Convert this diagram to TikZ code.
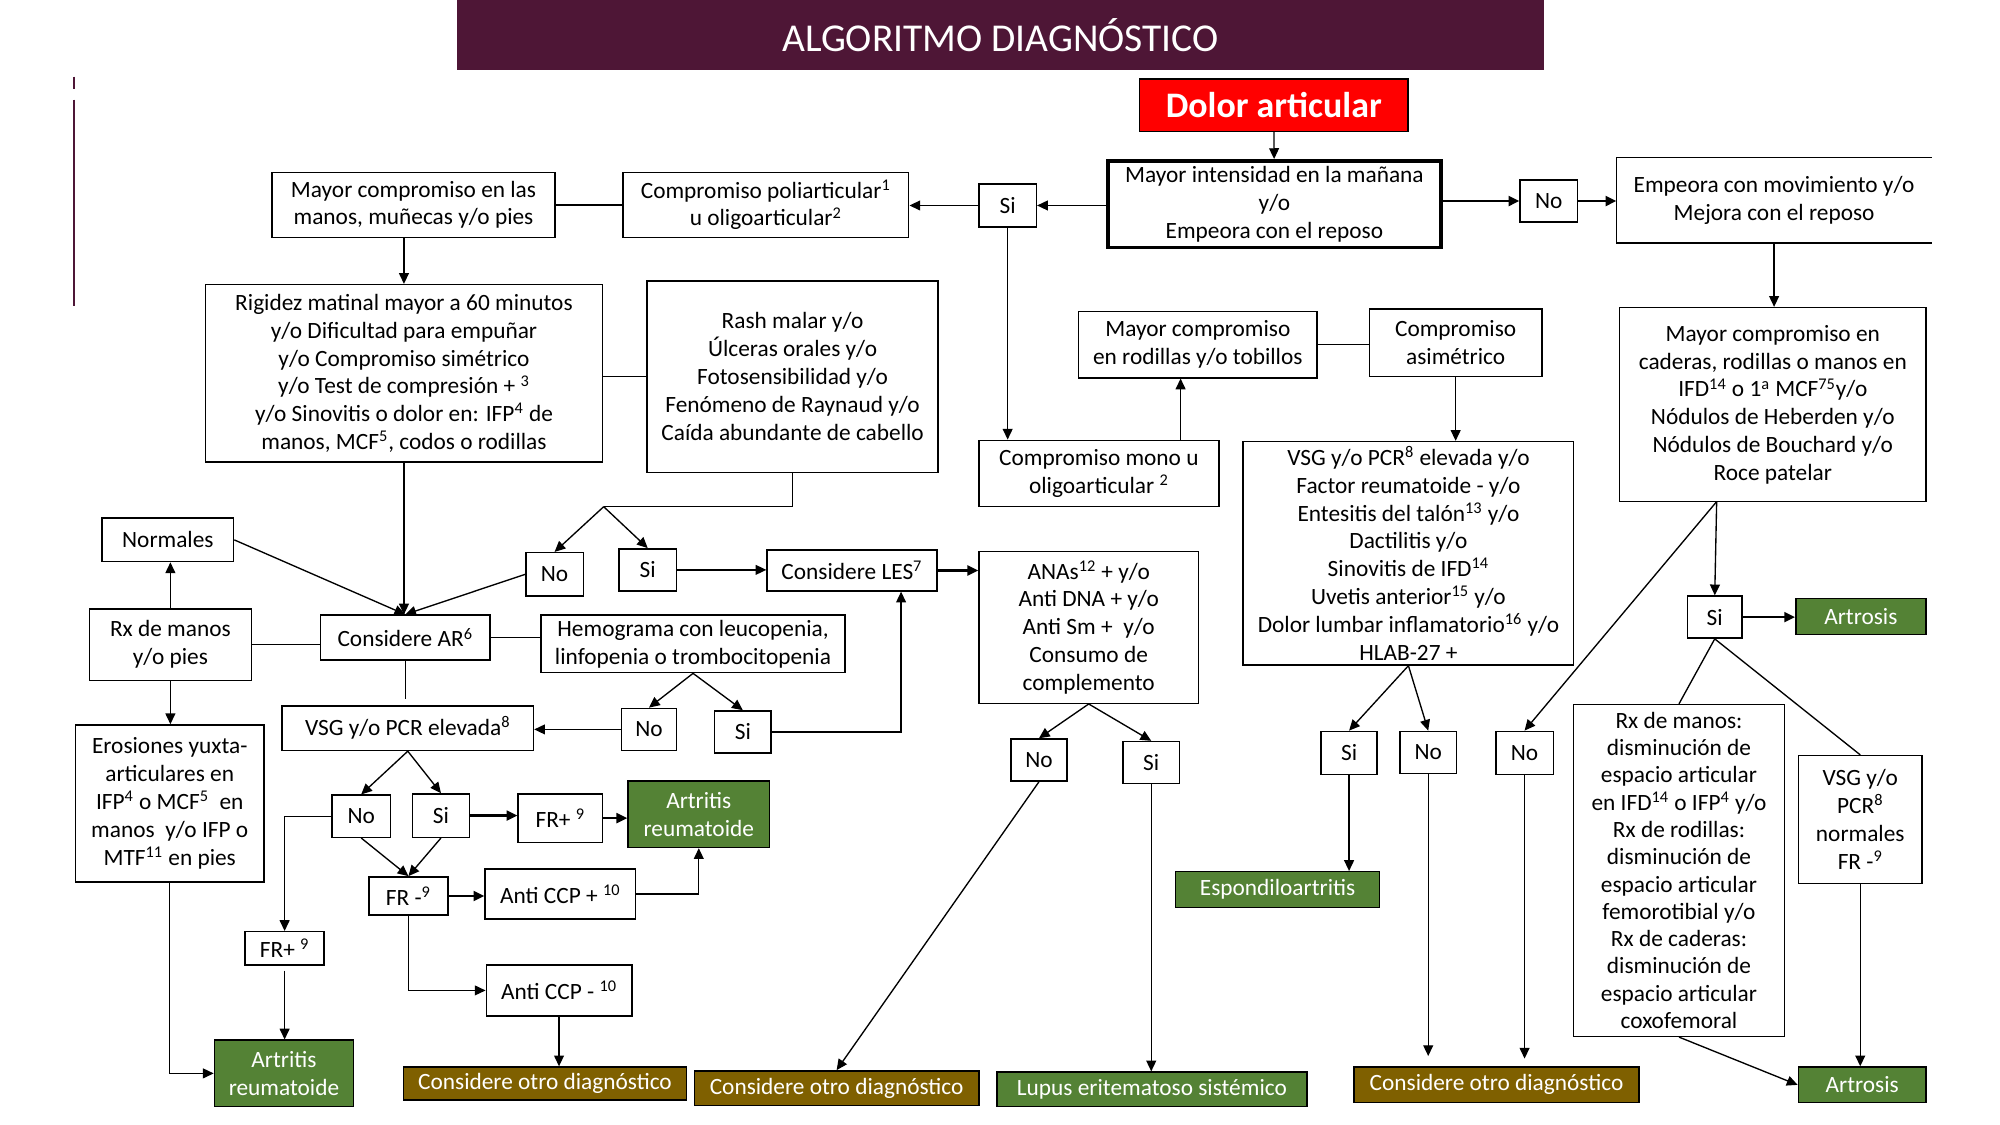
\documentclass[tikz,border=0pt]{standalone}
\usepackage{fontspec}
\setmainfont{Carlito}
\usetikzlibrary{positioning, arrows.meta, calc}

\definecolor{tituloFondo}{RGB}{78,22,54}
\definecolor{verdeDx}{RGB}{84,130,53}
\definecolor{cafeDx}{RGB}{127,96,0}

\tikzset{
  caja/.style={draw, line width=0.8pt, align=center, inner sep=2pt},
  wh/.style 2 args={minimum width=#1*0.025cm, minimum height=#2*0.025cm},
  dx/.style={caja, fill=verdeDx, text=white},
  otro/.style={caja, fill=cafeDx, text=white},
  flecha/.style={-{Triangle[length=6pt,width=5.5pt]}, line width=0.75pt},
  flechag/.style={flecha, line width=1.3pt},
  linea/.style={line width=0.75pt}
}

\begin{document}
\begin{tikzpicture}[x=0.025cm, y=-0.025cm, every node/.style={font=\fontsize{13}{15.5}\selectfont}]
  \fill[white] (0,0) rectangle (1567,881.4);
  \useasboundingbox (0,0) rectangle (1567,881.4);

  \node[fill=tituloFondo, text=white, wh={852}{55}, font=\fontsize{22}{26}\selectfont] (titulo) at (784,27.5) {ALGORITMO DIAGNÓSTICO};
  \draw[tituloFondo, line width=1pt] (58,60) -- (58,70) (58,78) -- (58,240);

  % inicio
  \node[caja, fill=red, text=white, wh={210}{41}, font=\bfseries\fontsize{20}{24}\selectfont] (dolor) at (998,82.5) {Dolor articular};
  \node[caja, line width=2pt, inner sep=1pt, wh={261}{68}] (intens) at (998.5,160) {Mayor intensidad en la mañana\\y/o\\Empeora con el reposo};
  \node[caja, wh={45}{33}] (noA) at (1213.5,157.5) {No};
  \node[caja, draw=none, wh={246}{66}] (empeora) at (1390,157) {Empeora con movimiento y/o\\Mejora con el reposo};
  \node[caja, wh={45}{34}] (siA) at (789.5,161) {Si};
  \node[caja, wh={224}{51}] (poli) at (600,160.5) {Compromiso poliarticular\textsuperscript{1}\\u oligoarticular\textsuperscript{2}};
  \node[caja, wh={222}{51}] (manos) at (324,160.5) {Mayor compromiso en las\\manos, muñecas y/o pies};

  % rama poliarticular
  \node[caja, wh={311}{139}] (rigidez) at (316.5,292.5) {Rigidez matinal mayor a 60 minutos\\y/o Dificultad para empuñar\\y/o Compromiso simétrico\\y/o Test de compresión + \textsuperscript{3}\\y/o Sinovitis o dolor en: IFP\textsuperscript{4} de\\manos, MCF\textsuperscript{5}, codos o rodillas};
  \node[caja, wh={228}{150}] (rash) at (621,295) {Rash malar y/o\\Úlceras orales y/o\\Fotosensibilidad y/o\\Fenómeno de Raynaud y/o\\Caída abundante de cabello};
  \node[caja, wh={103}{34}] (normales) at (131.5,423) {Normales};
  \node[caja, wh={127}{56}] (rx) at (133.5,505) {Rx de manos\\y/o pies};
  \node[caja, wh={133}{35}] (ar) at (317.5,499.5) {Considere AR\textsuperscript{6}};
  \node[caja, wh={238}{45}] (hemo) at (543,504.5) {Hemograma con leucopenia,\\linfopenia o trombocitopenia};
  \node[caja, wh={45}{34}] (noB) at (434.5,450) {No};
  \node[caja, wh={45}{33}] (siB) at (507.5,446.5) {Si};
  \node[caja, wh={133}{32}] (les) at (667.5,447) {Considere LES\textsuperscript{7}};
  \node[caja, wh={172}{119}] (anas) at (853,491.5) {ANAs\textsuperscript{12} + y/o\\Anti DNA + y/o\\Anti Sm +\ \ y/o\\Consumo de\\complemento};
  \node[caja, wh={43}{33}] (noC) at (508.5,571.5) {No};
  \node[caja, wh={44}{33}] (siC) at (582,573.5) {Si};
  \node[caja, wh={197}{35}] (vsg) at (319.5,570.5) {VSG y/o PCR elevada\textsuperscript{8}};
  \node[caja, wh={46}{33}] (noD) at (283,639.5) {No};
  \node[caja, wh={45}{34}] (siD) at (345.5,639) {Si};
  \node[caja, wh={66}{38}] (frpos) at (439,641) {FR+ \textsuperscript{9}};
  \node[dx, wh={111}{52}] (ar2) at (547.5,638) {Artritis\\reumatoide};
  \node[caja, wh={62}{30}] (frneg) at (320,702) {FR -\textsuperscript{9}};
  \node[caja, wh={118}{39}] (ccppos) at (439,700.5) {Anti CCP + \textsuperscript{10}};
  \node[caja, wh={114}{40}] (ccpneg) at (438,776) {Anti CCP - \textsuperscript{10}};
  \node[otro, wh={222}{26}] (otro1) at (427,849) {Considere otro diagnóstico};
  \node[caja, wh={62}{26}] (frpos2) at (223,743) {FR+ \textsuperscript{9}};
  \node[caja, wh={148}{123}] (erosiones) at (133,629.5) {Erosiones yuxta-\\articulares en\\IFP\textsuperscript{4} o MCF\textsuperscript{5}\ \ en\\manos\ \ y/o IFP o\\MTF\textsuperscript{11} en pies};
  \node[dx, wh={109}{52}] (ar1) at (222.5,841) {Artritis\\reumatoide};
  \node[caja, wh={44}{33}] (noE) at (814,595.5) {No};
  \node[caja, wh={44}{33}] (siE) at (902,597.5) {Si};
  \node[otro, wh={223}{27}] (otro2) at (655.5,852.5) {Considere otro diagnóstico};
  \node[dx, wh={243}{27}] (lupus) at (902.5,853.5) {Lupus eritematoso sistémico};

  % rama mono u oligoarticular
  \node[caja, wh={188}{52}] (mono) at (861,371) {Compromiso mono u\\oligoarticular \textsuperscript{2}};
  \node[caja, wh={187}{52}] (rodillas) at (938.5,270) {Mayor compromiso\\en rodillas y/o tobillos};
  \node[caja, wh={135}{53}] (asim) at (1140.5,268.5) {Compromiso\\asimétrico};
  \node[caja, inner ysep=0pt, wh={259}{175}] (vsgE) at (1103.5,433.5) {VSG y/o PCR\textsuperscript{8} elevada y/o\\Factor reumatoide - y/o\\Entesitis del talón\textsuperscript{13} y/o\\Dactilitis y/o\\Sinovitis de IFD\textsuperscript{14}\\Uvetis anterior\textsuperscript{15} y/o\\Dolor lumbar inflamatorio\textsuperscript{16} y/o\\HLAB-27 +};
  \node[caja, wh={44}{34}] (siF) at (1057,590) {Si};
  \node[caja, wh={44}{33}] (noF) at (1119,589.5) {No};
  \node[dx, wh={160}{28}] (espondilo) at (1001,697) {Espondiloartritis};
  \node[caja, wh={45}{34}] (noG) at (1194.5,590) {No};
  \node[otro, wh={223}{28}] (otro3) at (1172.5,850) {Considere otro diagnóstico};

  % rama mecanica
  \node[caja, wh={240}{152}] (caderas) at (1389,317) {Mayor compromiso en\\caderas, rodillas o manos en\\IFD\textsuperscript{14} o 1\textsuperscript{a} MCF\textsuperscript{75}y/o\\Nódulos de Heberden y/o\\Nódulos de Bouchard y/o\\Roce patelar};
  \node[caja, wh={43}{33}] (siH) at (1343.5,483.5) {Si};
  \node[dx, wh={102}{28}] (artrosis1) at (1458,483) {Artrosis};
  \node[caja, inner ysep=0pt, wh={165}{260}, font=\fontsize{13}{15.2}\selectfont] (rxm) at (1315.5,682) {Rx de manos:\\disminución de\\espacio articular\\en IFD\textsuperscript{14} o IFP\textsuperscript{4} y/o\\Rx de rodillas:\\disminución de\\espacio articular\\femorotibial y/o\\Rx de caderas:\\disminución de\\espacio articular\\coxofemoral};
  \node[caja, wh={97}{100}] (vsgN) at (1457.5,642) {VSG y/o\\PCR\textsuperscript{8}\\normales\\FR -\textsuperscript{9}};
  \node[dx, wh={100}{28}] (artrosis2) at (1459,850) {Artrosis};

  \coordinate (jR) at (473,397);
  \coordinate (cL) at (706,0);
  \coordinate (cM) at (925,0);
  \coordinate (cC) at (1345,393);

  \draw[line width=0.8pt] (empeora.north east) -- (empeora.north west) -- (empeora.south west) -- (empeora.south east);

  \draw[flecha] (dolor) -- (intens);
  \draw[flechag] (intens.east |- noA.west) -- (noA.west);
  \draw[flechag] (noA.east) -- (noA.east -| empeora.west);
  \draw[flecha] (empeora.south) -- (empeora.south |- caderas.north);
  \draw[flecha] (intens.west |- siA.east) -- (siA.east);
  \draw[flecha] (siA.west) -- (siA.west -| poli.east);
  \draw[linea] (poli.west) -- (poli.west -| manos.east);
  \draw[flecha] (rigidez.north |- manos.south) -- (rigidez.north);
  \draw[linea] (rigidez.east |- rash.west) -- (rash.west);
  \draw[linea] (rash.south) |- (jR);
  \draw[flecha] (jR) -- (noB.north);
  \draw[flecha] (jR) -- (siB.north);
  \draw[flecha] (siB.east) -- (siB.east -| les.west);
  \draw[flechag] (les.east) -- (les.east -| anas.west);
  \draw[flecha] (anas.south) -- (noE.north);
  \draw[flecha] (anas.south) -- (siE.north);
  \draw[flecha] (noE.south) -- (otro2.north);
  \draw[flecha] (siE.south) -- (siE.south |- lupus.north);

  \draw[flecha] (rx.north) -- (rx.north |- normales.south);
  \draw[flecha] (normales.east) -- (ar.north);
  \draw[linea] (rx.east) -- (rx.east -| ar.west);
  \draw[flecha] (rigidez.south) -- (rigidez.south |- ar.north);
  \draw[flecha] (noB.west) -- (ar.north);
  \draw[linea] (ar.east) -- (ar.east -| hemo.west);
  \draw[flecha] (hemo.south) -- (noC.north);
  \draw[flecha] (hemo.south) -- (siC.north);
  \draw[flecha] (noC.west) -- (noC.west -| vsg.east);
  \draw[flecha] (siC.east) -| (les.south -| cL);
  \draw[linea] (ar.south) -- ++(0,30);
  \draw[flecha] (vsg.south) -- (noD.north);
  \draw[flecha] (vsg.south) -- (siD.north);
  \draw[flechag] (siD.east) -- (siD.east -| frpos.west);
  \draw[flechag] (frpos.east) -- (frpos.east -| ar2.west);
  \draw[flecha] (noD.south) -- (frneg.north);
  \draw[flecha] (siD.south) -- (frneg.north);
  \draw[flechag] (frneg.east) -- (frneg.east -| ccppos.west);
  \draw[flecha] (ccppos.east) -| (ar2.south);
  \draw[flecha] (frneg.south) |- (ccpneg.west);
  \draw[flecha] (ccpneg.south) -- (ccpneg.south |- otro1.north);
  \draw[flecha] (noD.west) -| (frpos2.north);
  \draw[flecha, shorten <=0.1cm] (frpos2.south) -- (frpos2.south |- ar1.north);
  \draw[flecha] (rx.south) -- (rx.south |- erosiones.north);
  \draw[flecha] (erosiones.south) |- (ar1.west);

  \draw[flecha] (siA.south) -- (siA.south |- mono.north);
  \draw[flecha] (mono.north -| cM) -- (rodillas.south -| cM);
  \draw[linea] (rodillas.east) -- (rodillas.east -| asim.west);
  \draw[flecha] (asim.south) -- (asim.south |- vsgE.north);
  \draw[flecha] (vsgE.south) -- (siF.north);
  \draw[flecha] (vsgE.south) -- (noF.north);
  \draw[flecha] (siF.south) -- (siF.south |- espondilo.north);
  \draw[flecha, shorten >=0.2cm] (noF.south) -- (noF.south |- otro3.north);
  \draw[flecha, shorten >=0.15cm] (noG.south) -- (noG.south |- otro3.north);

  \draw[flecha] (cC) -- (noG.north);
  \draw[flecha] (cC) -- (siH.north);
  \draw[flechag] (siH.east) -- (siH.east -| artrosis1.west);
  \draw[linea] (siH.south) -- (rxm.north);
  \draw[linea] (siH.south) -- (vsgN.north);
  \draw[flecha] (vsgN.south) -- (vsgN.south |- artrosis2.north);
  \draw[flecha] (rxm.south) -- (artrosis2.west);
\end{tikzpicture}
\end{document}
